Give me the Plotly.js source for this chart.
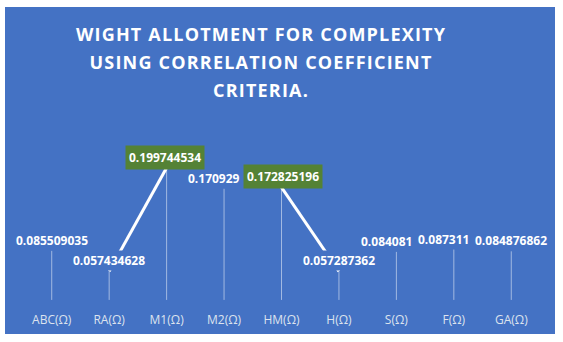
<!DOCTYPE html>
<html>
<head>
<meta charset="utf-8">
<script src="https://cdn.plot.ly/plotly-3.0.1.min.js"></script>
<style>
  body { margin: 0; background: #ffffff; }
  #chart { position: absolute; left: 5px; top: 7px; width: 550px; height: 327px; }
  .gtitle { letter-spacing: 1.2px; }
</style>
</head>
<body>
<div id="chart"></div>
<script>
const categories = ["ABC(Ω)", "RA(Ω)", "M1(Ω)", "M2(Ω)", "HM(Ω)", "H(Ω)", "S(Ω)", "F(Ω)", "GA(Ω)"];
const weights = [0.085509035, 0.057434628, 0.199744534, 0.170929, 0.172825196, 0.057287362, 0.084081, 0.087311, 0.084876862];
const highlighted = ["M1(Ω)", "HM(Ω)"];
const linked = [["RA(Ω)", "M1(Ω)"], ["HM(Ω)", "H(Ω)"]];

const blue = "#4472C4";
const green = "#548235";
const dropBase = 0.018;

// drop lines from each value down toward the axis
const drops = {
  x: categories,
  y: weights,
  type: "scatter",
  mode: "markers",
  marker: {color: "rgba(0,0,0,0)", size: 1},
  error_y: {
    type: "data",
    symmetric: false,
    array: weights.map(() => 0),
    arrayminus: weights.map(v => v - dropBase),
    color: "rgba(255,255,255,0.5)",
    thickness: 1,
    width: 0
  },
  hoverinfo: "skip",
  showlegend: false
};

const segments = linked.map(pair => ({
  x: pair,
  y: pair.map(c => weights[categories.indexOf(c)]),
  type: "scatter",
  mode: "lines",
  line: {color: "#ffffff", width: 3},
  hoverinfo: "skip",
  showlegend: false
}));

// small sideways nudges so labels don't collide (like excel did)
const nudge = {"M1(Ω)": -2, "M2(Ω)": -10, "HM(Ω)": 1, "S(Ω)": -10, "F(Ω)": -10};

const labels = categories.map((c, i) => {
  const hi = highlighted.includes(c);
  const covers = linked.some(p => p[0] === c || p[1] === c) && !hi;
  return {
    x: c, y: weights[i],
    text: String(weights[i]),
    showarrow: false,
    xshift: nudge[c] || 0,
    yshift: 10.5,
    yanchor: "middle",
    font: {family: "Open Sans", size: 12, color: "#ffffff", weight: 700},
    bgcolor: hi ? green : (covers ? blue : "rgba(0,0,0,0)"),
    borderpad: hi ? 3 : 1
  };
});

const span = s => `<span style="font-size:18px">${s}</span>`;

Plotly.newPlot("chart", [drops, ...segments], {
  width: 550, height: 327,
  paper_bgcolor: blue,
  plot_bgcolor: blue,
  margin: {l: 18, r: 15, t: 88, b: 23},
  title: {
    text: [span("WIGHT ALLOTMENT FOR COMPLEXITY"), span("USING CORRELATION COEFFICIENT"), span("CRITERIA.")].join("<br>"),
    font: {family: "Open Sans", size: 21.5, color: "#ffffff", weight: 700},
    x: 0.4655, xanchor: "center",
    y: 0.897, yanchor: "top"
  },
  xaxis: {
    type: "category",
    range: [-0.5, categories.length - 0.5],
    showgrid: false, zeroline: false, showline: false,
    ticks: "",
    tickfont: {family: "Open Sans", size: 12, color: "#DDE3EE"},
    fixedrange: true
  },
  yaxis: {
    range: [0.00275, 0.3],
    visible: false,
    fixedrange: true
  },
  annotations: labels,
  showlegend: false
}, {displayModeBar: false, staticPlot: true});
</script>
</body>
</html>
